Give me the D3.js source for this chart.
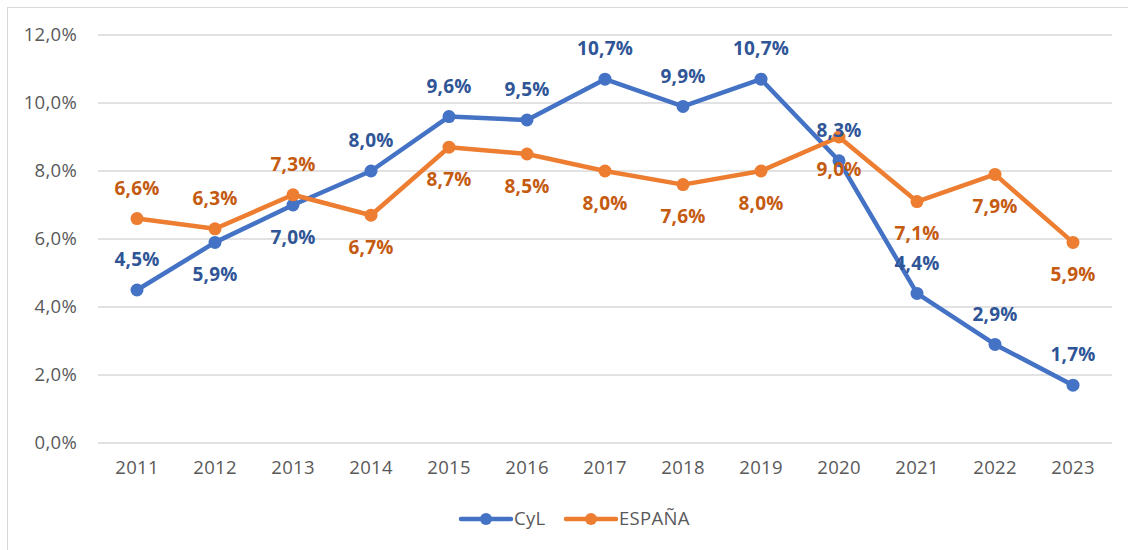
<!DOCTYPE html>
<html>
<head>
<meta charset="utf-8">
<script src="https://cdn.jsdelivr.net/npm/d3@7"></script>
<style>
  body { margin: 0; background: #fff; }
  svg { display: block; font-family: "Open Sans", "Noto Sans", sans-serif; }
</style>
</head>
<body>
<svg id="chart" width="1128" height="550"></svg>
<script>
const years = ["2011","2012","2013","2014","2015","2016","2017","2018","2019","2020","2021","2022","2023"];
const cylValues = [4.5, 5.9, 7.0, 8.0, 9.6, 9.5, 10.7, 9.9, 10.7, 8.3, 4.4, 2.9, 1.7];
const espValues = [6.6, 6.3, 7.3, 6.7, 8.7, 8.5, 8.0, 7.6, 8.0, 9.0, 7.1, 7.9, 5.9];
// label placement (above / below the point)
const cylLabelPos = ["a","b","b","a","a","a","a","a","a","a","a","a","a"];
const espLabelPos = ["a","a","a","b","b","b","b","b","b","b","b","b","b"];
const yTicks = [0, 2, 4, 6, 8, 10, 12];

const series = [
  {name: "CyL", values: cylValues, pos: cylLabelPos, color: "#4472C4", labelColor: "#2F5597"},
  {name: "ESPAÑA", values: espValues, pos: espLabelPos, color: "#ED7D31", labelColor: "#C55A11"}
];

const svg = d3.select("#chart");
const fmt = v => v.toFixed(1).replace(".", ",") + "%";

// outer frame
svg.append("rect")
  .attr("x", 7.5).attr("y", 7.5)
  .attr("width", 1130).attr("height", 560)
  .attr("fill", "none").attr("stroke", "#d9d9d9");

const x = d3.scaleBand().domain(years).range([98, 1112]);
const y = d3.scaleLinear().domain([0, 12]).range([443, 35]);

// gridlines
svg.append("g")
  .selectAll("line")
  .data(yTicks)
  .join("line")
  .attr("x1", 98).attr("x2", 1112)
  .attr("y1", d => y(d)).attr("y2", d => y(d))
  .attr("stroke", "#d9d9d9").attr("stroke-width", 1.3);

// y axis labels
const yAxis = d3.axisLeft(y).tickValues(yTicks).tickFormat(fmt).tickSize(0).tickPadding(0);
const gy = svg.append("g").attr("transform", "translate(77,0)").call(yAxis);
gy.select(".domain").remove();
gy.selectAll("text").attr("font-size", 18.5).attr("fill", "#595959")
  .attr("font-family", "'Open Sans', 'Noto Sans', sans-serif").attr("letter-spacing", 0.3);

// x axis labels
const xAxis = d3.axisBottom(x).tickSize(0).tickPadding(0);
const gx = svg.append("g").attr("transform", "translate(0,461)").call(xAxis);
gx.select(".domain").remove();
gx.selectAll("text").attr("font-size", 18.5).attr("fill", "#595959")
  .attr("font-family", "'Open Sans', 'Noto Sans', sans-serif").attr("letter-spacing", 0.3);

const cx = yr => x(yr) + x.bandwidth() / 2;
const line = d3.line().x((d, i) => cx(years[i])).y(d => y(d));

series.forEach(s => {
  svg.append("path")
    .datum(s.values)
    .attr("d", line)
    .attr("fill", "none")
    .attr("stroke", s.color)
    .attr("stroke-width", 4.5)
    .attr("stroke-linejoin", "round")
    .attr("stroke-linecap", "round");
  svg.append("g")
    .selectAll("circle")
    .data(s.values)
    .join("circle")
    .attr("cx", (d, i) => cx(years[i]))
    .attr("cy", d => y(d))
    .attr("r", 6.5)
    .attr("fill", s.color);
});

series.forEach(s => {
  svg.append("g")
    .selectAll("text")
    .data(s.values)
    .join("text")
    .attr("x", (d, i) => cx(years[i]))
    .attr("y", (d, i) => y(d) + (s.pos[i] === "a" ? -30.5 : 32))
    .attr("dy", "0.35em")
    .attr("text-anchor", "middle")
    .attr("font-size", 19)
    .attr("font-weight", "bold")
    .attr("letter-spacing", 0.2)
    .attr("fill", s.labelColor)
    .text(d => fmt(d));
});

// legend
const legend = svg.append("g").attr("transform", "translate(0,519)");
const legendItems = [{s: series[0], x0: 461}, {s: series[1], x0: 566}];
legendItems.forEach(li => {
  legend.append("line")
    .attr("x1", li.x0).attr("x2", li.x0 + 50)
    .attr("stroke", li.s.color).attr("stroke-width", 4.5).attr("stroke-linecap", "round");
  legend.append("circle").attr("cx", li.x0 + 25).attr("r", 6).attr("fill", li.s.color);
  legend.append("text")
    .attr("x", li.x0 + 53).attr("dy", "0.35em")
    .attr("font-size", 18.5).attr("fill", "#595959").attr("letter-spacing", 0.3)
    .text(li.s.name);
});
</script>
</body>
</html>
